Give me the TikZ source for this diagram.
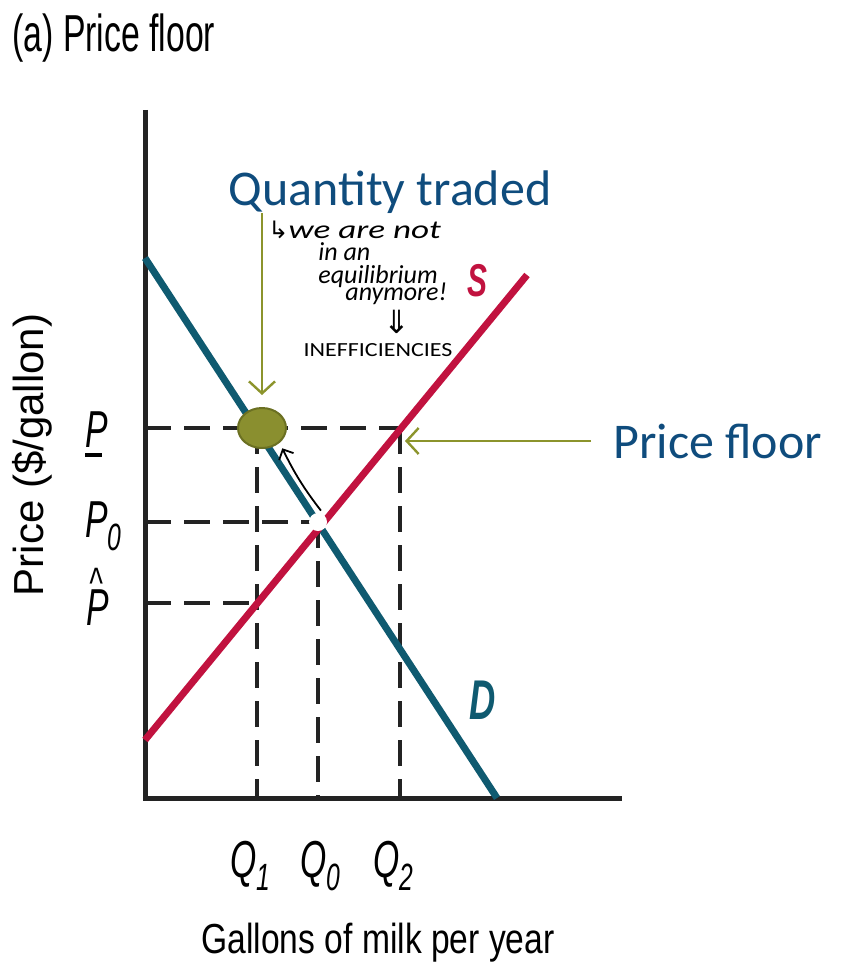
\documentclass[tikz,border=0pt]{standalone}
\usepackage{fontspec}
\setmainfont{Liberation Sans}
\newfontfamily\condfont[FakeStretch=0.65]{Liberation Sans}
\newfontfamily\midfont[FakeStretch=0.8]{Liberation Sans}
\newfontfamily\calfont{Carlito}
\newfontfamily\handfont{Carlito}
\newfontfamily\widehandfont[FakeStretch=1.35]{Carlito}
\newfontfamily\capsfont[FakeStretch=1.2]{Carlito}
\newfontfamily\symfont{DejaVu Sans}
\usetikzlibrary{arrows.meta,shapes.geometric}
\definecolor{demandcol}{HTML}{0F5A70}
\definecolor{supplycol}{HTML}{C1123F}
\definecolor{notecol}{HTML}{0F4C7D}
\definecolor{olivecol}{HTML}{8C942C}
\definecolor{blobfill}{HTML}{8A8F2F}
\definecolor{blobdraw}{HTML}{6B7022}
\definecolor{guidecol}{HTML}{232323}
\newcommand{\lowsub}[1]{\raisebox{-0.25em}{\fontsize{19}{19}\selectfont #1}}
\newcommand{\hatmark}{\makebox[0pt][l]{\kern0.05em\raisebox{13.5pt}{\fontsize{22}{22}\selectfont\textasciicircum}}}
\begin{document}
\begin{tikzpicture}[x=0.5pt, y=-0.5pt,
  guide/.style={guidecol, line width=1.75pt, dash pattern=on 13pt off 6.5pt},
  curve/.style={line width=3.5pt},
  pointer/.style={olivecol, line width=1.2pt, -{Straight Barb[length=6pt,width=13pt]}},
  hand/.style={font=\handfont\itshape\fontsize{13}{14}\selectfont, inner sep=0pt, anchor=base west},
  ticklabel/.style={font=\condfont\itshape\fontsize{26}{28}\selectfont, inner sep=0pt, anchor=base west},
  callout/.style={notecol, font=\calfont\fontsize{25}{28}\selectfont, inner sep=0pt}]
\useasboundingbox (0,0) rectangle (841,979);
\node[anchor=base west, inner sep=0pt, font=\condfont\fontsize{26}{28}\selectfont] (title) at (12,52) {(a) Price floor};
% guide lines
\draw[guide] (145,428) -- (400,428);
\draw[guide] (145,522) -- (318,522);
\draw[guide] (145,603) -- (257,603);
\draw[guide] (257,428) -- (257,798);
\draw[guide] (318,522) -- (318,798);
\draw[guide] (400,428) -- (400,798);
% axes
\draw[line width=2.5pt, guidecol] (145,110) -- (145,798) -- (622,798);
% curves
\draw[curve, demandcol] (145,258) -- (497,798);
\draw[curve, supplycol] (145,740) -- (527,275);
\node[supplycol, font=\condfont\bfseries\itshape\fontsize{23}{24}\selectfont] (slab) at (477,281) {S};
\node[demandcol, font=\condfont\bfseries\itshape\fontsize{28}{30}\selectfont] (dlab) at (483,700) {D};
% points
\node[ellipse, fill=blobfill, draw=blobdraw, line width=1pt, minimum width=24pt, minimum height=20pt] (blob) at (262,428) {};
\node[circle, fill=white, minimum size=9pt, inner sep=0pt] (eq) at (318,522) {};
\coordinate (floorpt) at (405,441);
% axis labels
\node[ticklabel] (plab) at (85,447) {P};
\draw[line width=1.6pt] ([yshift=-4pt]plab.base west) -- ([yshift=-4pt, xshift=-3pt]plab.base east);
\node[ticklabel] (p0lab) at (85,537) {P\lowsub{0}};
\node[ticklabel] (phatlab) at (86,625) {\hatmark P};
\node[ticklabel] (q1lab) at (230,877) {Q\lowsub{1}};
\node[ticklabel] (q0lab) at (300,877) {Q\lowsub{0}};
\node[ticklabel] (q2lab) at (373,877) {Q\lowsub{2}};
\node[font=\midfont\fontsize{21}{22}\selectfont] (xlab) at (378,943) {Gallons of milk per year};
\node[rotate=90, font=\fontsize{21}{22}\selectfont] (ylab) at (32,455) {Price (\$/gallon)};
% callouts
\node[callout, anchor=base] (qtlab) at (390,205) {Quantity traded};
\node[callout, anchor=base west] (pflab) at (613,458) {Price floor};
\draw[pointer] (qtlab.south -| blob) -- (blob.north) [shorten >=6pt];
\draw[pointer, shorten <=11pt] (pflab.west |- floorpt) -- (floorpt);
% notes
\node[hand, font=\widehandfont\itshape\fontsize{13}{14}\selectfont] (note1) at (268,238) {{\symfont\fontsize{12}{12}\selectfont ↳}we are not};
\node[hand] (note2) at (318,260) {in an};
\node[hand] (note3) at (318,283) {equilibrium};
\node[hand] (note4) at (345,300) {anymore!};
\node[hand, anchor=center, font=\symfont\fontsize{16}{16}\selectfont] (note5) at (397,322) {⇓};
\node[hand, anchor=center, font=\capsfont\fontsize{10}{11}\selectfont] (note6) at (378,350) {INEFFICIENCIES};
\draw[line width=0.9pt, -{Straight Barb[length=4pt,width=8pt]}, shorten <=3pt, shorten >=3pt] (eq.north east) to[bend left=6] (blob.south east);
\end{tikzpicture}
\end{document}
